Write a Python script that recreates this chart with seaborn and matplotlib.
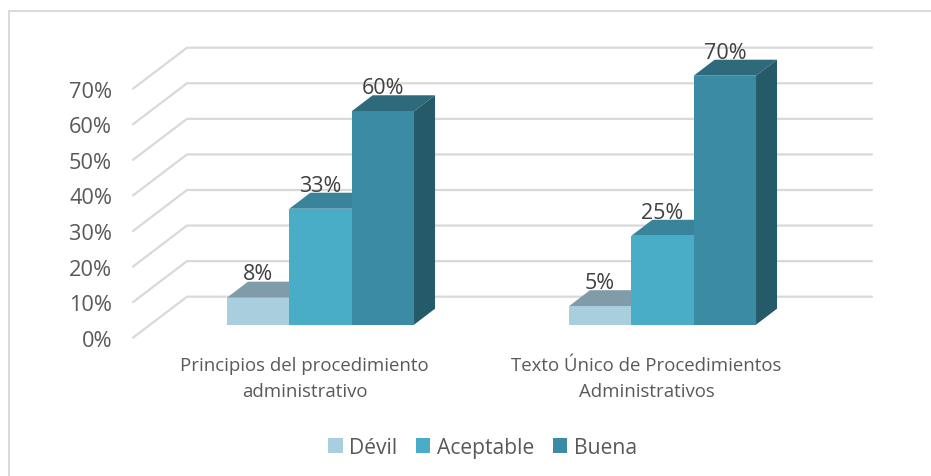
import matplotlib
matplotlib.use("Agg")
import matplotlib.pyplot as plt
from matplotlib.lines import Line2D
from matplotlib.patches import Polygon
import pandas as pd
import seaborn as sns

categories = ["Principios del procedimiento\nadministrativo",
              "Texto Único de Procedimientos\nAdministrativos"]
devil = [7.6, 5.2]
aceptable = [32.6, 25]
buena = [60, 70]
series_names = ["Dévil", "Aceptable", "Buena"]
y_ticks = [0, 10, 20, 30, 40, 50, 60, 70]

front_colors = ["#A9CFDE", "#4AADC8", "#3C8BA4"]
top_colors = ["#7F9CA8", "#3A849B", "#2F6A7C"]
side_colors = ["#7F9CA8", "#34788D", "#255A69"]

W, H = 931, 477
sns.set_theme(style="white")
plt.rcParams["font.family"] = ["Open Sans", "DejaVu Sans"]

fig = plt.figure(figsize=(W / 100, H / 100), dpi=100, facecolor="white")

def rect(left, right, top, bottom):
    return [left / W, 1 - bottom / H, (right - left) / W, (bottom - top) / H]

PX_PER_UNIT = 249 / 70
PX_PER_CAT = 342

# Wall axes: carries the gridlines and tick labels, on the front plane
wall = fig.add_axes(rect(133, 872, 47.7, 338.7))
wall.set_xlim((133 - 304.5) / PX_PER_CAT, (872 - 304.5) / PX_PER_CAT)
wall.set_ylim(0, (338.7 - 47.7) / PX_PER_UNIT)
x0, x1 = wall.get_xlim()
wall_dx = 54 / PX_PER_CAT
wall_dy = 41 / PX_PER_UNIT
for v in y_ticks:
    wall.plot([x0, x0 + wall_dx, x1], [v, v + wall_dy, v + wall_dy],
              color="#D9D9D9", lw=1.6, clip_on=False, zorder=1)
wall.set_yticks(y_ticks, [f"{v}%" for v in y_ticks])
wall.set_xticks([0, 1], categories)
wall.tick_params(axis="y", length=0, pad=15, labelsize=15.7, labelcolor="#595959")
wall.tick_params(axis="x", length=0, pad=13, labelsize=13.4, labelcolor="#595959")
for t in wall.get_xticklabels():
    t.set_linespacing(1.58)
for s in wall.spines.values():
    s.set_visible(False)

# Bar axes: same scale, shifted to the middle of the depth
ax = fig.add_axes(rect(133, 872, 47.7, 325.7))
ax.patch.set_alpha(0)
df = pd.DataFrame({
    "categoria": categories * 3,
    "nivel": [n for n in series_names for _ in categories],
    "valor": devil + aceptable + buena,
})
sns.barplot(data=df, x="categoria", y="valor", hue="nivel", hue_order=series_names,
            palette=front_colors, saturation=1, width=0.547, gap=0, ax=ax, zorder=3,
            linewidth=0, edgecolor="none")
ax.set_xlim((133 - 320.5) / PX_PER_CAT, (872 - 320.5) / PX_PER_CAT)
ax.set_ylim(0, (325.7 - 47.7) / PX_PER_UNIT)
ax.set_xlabel("")
ax.set_ylabel("")
ax.set_xticks([])
ax.set_yticks([])
for s in ax.spines.values():
    s.set_visible(False)

dx = 21 / PX_PER_CAT
dy = 16 / PX_PER_UNIT
for i, container in enumerate(ax.containers):
    for bar in container:
        bx, bw, bh = bar.get_x(), bar.get_width(), bar.get_height()
        ax.add_patch(Polygon([(bx, bh), (bx + bw, bh), (bx + bw + dx, bh + dy), (bx + dx, bh + dy)],
                             closed=True, fc=top_colors[i], ec="none", zorder=2, clip_on=False))
        ax.add_patch(Polygon([(bx + bw, 0), (bx + bw + dx, dy), (bx + bw + dx, bh + dy), (bx + bw, bh)],
                             closed=True, fc=side_colors[i], ec="none", zorder=2, clip_on=False))
    ax.bar_label(container, labels=[f"{b.get_height():.0f}%" for b in container],
                 padding=9.5, fontsize=15.5, color="#404040", zorder=5, clip_on=False)

handles, labels = ax.get_legend_handles_labels()
if ax.get_legend():
    ax.get_legend().remove()
fig.legend(handles, labels, loc="center", bbox_to_anchor=(482.5 / W, 1 - 448.5 / H), ncol=3,
           frameon=False, fontsize=15.2, labelcolor="#595959",
           handlelength=0.68, handleheight=0.68, handletextpad=0.3, columnspacing=0.9,
           borderpad=0, borderaxespad=0)

# Chart frame
fig.add_artist(Line2D([9 / W, 9 / W], [0, 1 - 12 / H], color="#D9D9D9", lw=1.4))
fig.add_artist(Line2D([9 / W, 1], [1 - 12 / H, 1 - 12 / H], color="#D9D9D9", lw=1.4))

fig.savefig("out.png", dpi=100)
